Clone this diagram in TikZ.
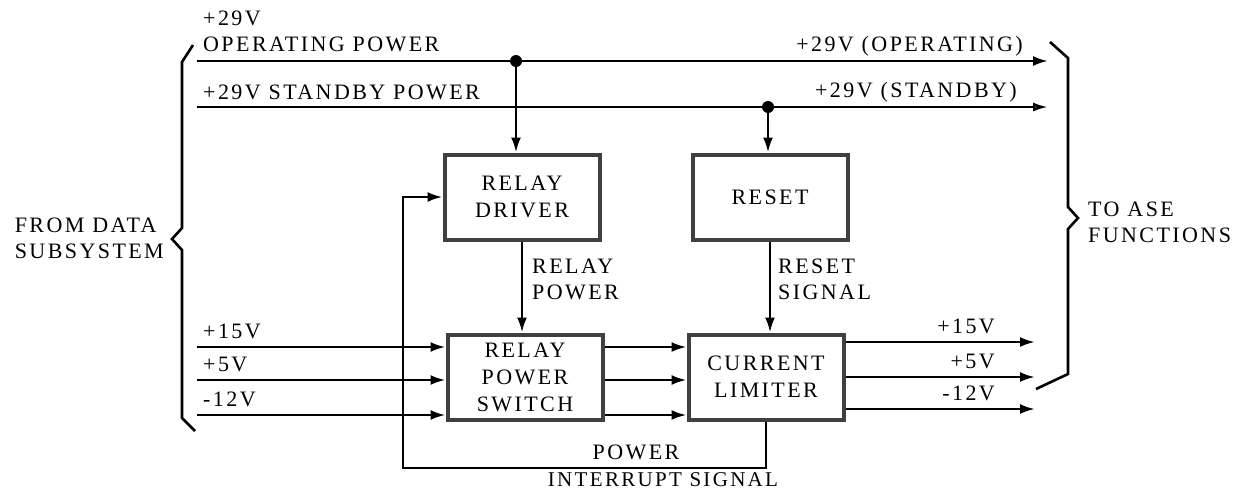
\documentclass[tikz,border=0pt]{standalone}
\usepackage{fontspec}
\setmainfont{Liberation Serif}[LetterSpace=11]
\usetikzlibrary{arrows.meta,positioning}

\begin{document}
\begin{tikzpicture}[x=1pt, y=-1pt,
	blk/.style={draw=black!75, line width=4pt, minimum width=155pt, minimum height=85pt, align=center, font=\fontsize{22}{27}\selectfont},
	lbl/.style={inner sep=0pt, font=\fontsize{22}{26}\selectfont},
	wire/.style={line width=2.5pt, -{Latex[length=15pt,width=10pt]}},
	brace/.style={line width=2.6pt, line join=miter}]
		\useasboundingbox (0,0) rectangle (1233,491);
		% blocks
		\node[blk] (drv) at (522,197) {RELAY\\DRIVER};
		\node[blk] (rst) at (770,197) {RESET};
		\node[blk] (rps) at (525,377) {RELAY\\POWER\\SWITCH};
		\node[blk] (lim) at (766,377) {CURRENT\\LIMITER};
		% +29V busses
		\coordinate (opin) at (197,61);
		\coordinate (opout) at (1048,61);
		\coordinate (opdot) at (516,61);
		\coordinate (sbin) at (197,107);
		\coordinate (sbout) at (1048,107);
		\coordinate (sbdot) at (768,107);
		\draw[wire] (opin) -- (opout);
		\draw[line width=2.5pt, -{Latex[open,length=15pt,width=9pt]}] (sbin) -- (sbout);
		\fill (opdot) circle (6pt);
		\fill (sbdot) circle (6pt);
		\draw[wire] (opdot) -- (opdot |- drv.north);
		\draw[wire] (sbdot) -- (sbdot |- rst.north);
		\node[lbl, anchor=west] (t29) at (203,18) {+29V};
		\node[lbl, anchor=west] (topw) at (203,44) {OPERATING POWER};
		\node[lbl, anchor=west] (tsbp) at (203,92) {+29V STANDBY POWER};
		\node[lbl, anchor=east] (tope) at (1023,46) {+29V (OPERATING)};
		\node[lbl, anchor=east] (tsbe) at (1017,92) {+29V (STANDBY)};
		% vertical links
		\draw[wire] (drv.south) -- (drv.south |- rps.north);
		\draw[wire] (rst.south) -- (rst.south |- lim.north);
		\node[lbl, anchor=west, align=left] (trp) at (532,279) {RELAY\\POWER};
		\node[lbl, anchor=west, align=left] (trs) at (778,279) {RESET\\SIGNAL};
		% supply lines
		\foreach \i/\y/\yo/\v in {1/347/342/+15V, 2/380/377/+5V, 3/415/409/-12V} {
			\coordinate (in\i) at (197,\y);
			\coordinate (out\i) at (1035,\yo);
			\draw[wire] (in\i) -- (in\i -| rps.west);
			\draw[wire] (rps.east |- in\i) -- (lim.west |- in\i);
			\draw[wire] (lim.east |- out\i) -- (out\i);
			\node[lbl, anchor=south west] (vin\i) at ([shift={(6,-8)}]in\i) {\v};
			\node[lbl, anchor=south east] (vout\i) at ([shift={(-40,-8)}]out\i) {\v};
		}
		% interrupt loop
		\coordinate (fb) at (403,468);
		\draw[wire] (lim.south) |- (fb) |- (drv.west);
		\node[lbl] (tpw) at (636,452) {POWER};
		\node[lbl, anchor=base, font=\fontsize{21}{25}\selectfont] (tis) at (663,486.5) {INTERRUPT SIGNAL};
		% braces
		\draw[brace] (193,45) -- (182,62) -- (182,228) -- (172,239) -- (182,250) -- (182,418) -- (195,431);
		\node[lbl, anchor=east, align=left] (tfrom) at (164,238) {FROM DATA\\SUBSYSTEM};
		\draw[brace] (1050,42) -- (1068,58) -- (1068,207) -- (1078,218) -- (1068,229) -- (1068,374) -- (1036,389);
		\node[lbl, anchor=west, align=left] (tto) at (1088,222) {TO ASE\\FUNCTIONS};
\end{tikzpicture}
\end{document}
